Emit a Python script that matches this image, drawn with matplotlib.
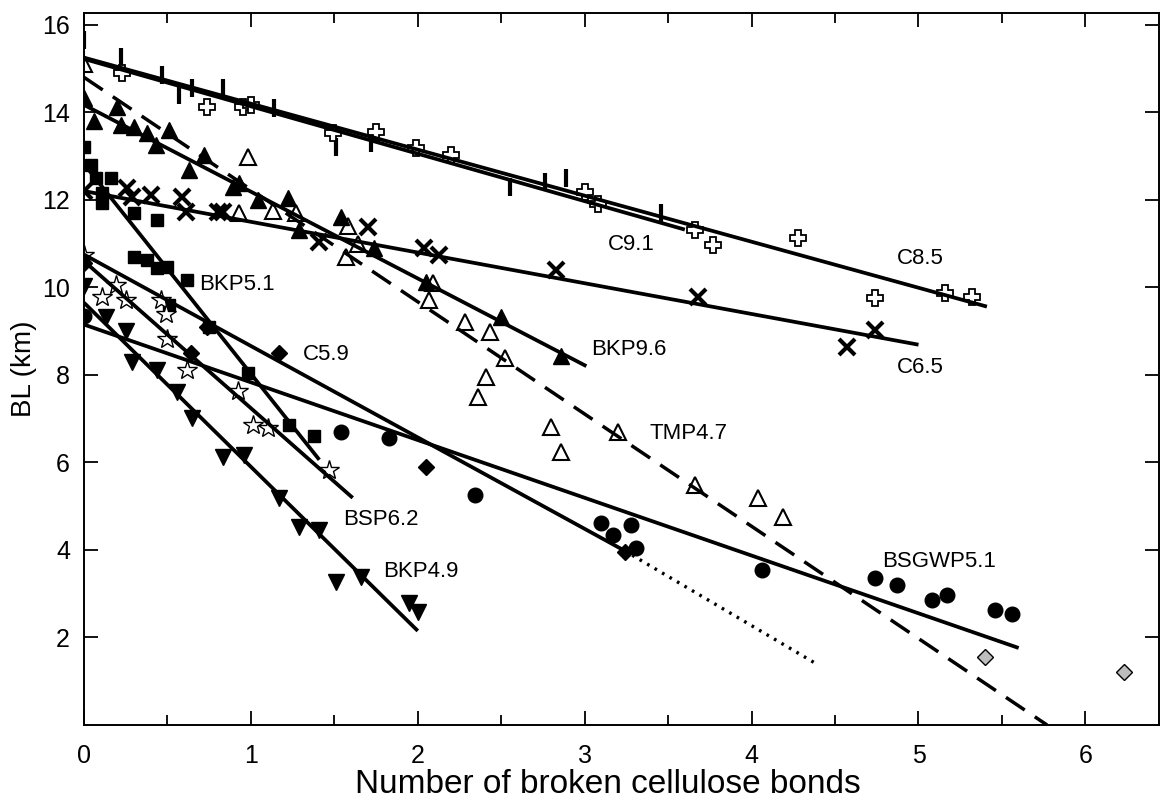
import matplotlib
matplotlib.use("Agg")
import numpy as np
import matplotlib.pyplot as plt

plt.rcParams['font.family'] = ['Liberation Sans', 'DejaVu Sans']

# C9.1 (vertical bars)
c91_x = [0.0, 0.22, 0.47, 0.57, 0.65, 0.83, 1.14, 1.51, 1.72, 2.55, 2.76, 2.89, 3.46]
c91_y = [15.66, 15.27, 14.86, 14.4, 14.56, 14.56, 14.1, 13.2, 13.3, 12.3, 12.4, 12.5, 11.7]
c91_fit = ([0.0, 3.6], [15.22, 11.32])

# C8.5 (open crosses)
c85_x = [0.23, 0.74, 0.95, 1.0, 1.49, 1.75, 1.99, 2.2, 3.0, 3.08, 3.66, 3.77, 4.28, 4.74, 5.16, 5.32]
c85_y = [14.9, 14.13, 14.13, 14.17, 13.53, 13.56, 13.19, 13.03, 12.18, 11.9, 11.3, 10.97, 11.13, 9.76, 9.87, 9.78]
c85_fit = ([0.0, 5.41], [15.25, 9.56])

# TMP4.7 (open triangles, dashed fit)
tmp_x = [0.0, 0.98, 0.93, 1.13, 1.27, 1.58, 1.64, 1.57, 2.09, 2.07, 2.28, 2.43, 2.52, 2.41, 2.36,
         2.8, 2.86, 3.2, 3.66, 4.04, 4.19]
tmp_y = [15.1, 12.98, 11.7, 11.75, 11.7, 11.4, 11.0, 10.7, 10.1, 9.71, 9.21, 8.98, 8.39, 7.96, 7.5,
         6.81, 6.24, 6.7, 5.49, 5.19, 4.75]
tmp_fit = ([0.0, 5.77], [14.8, 0.0])

# BKP9.6 (filled triangles)
bkp96_x = [0.0, 0.06, 0.2, 0.22, 0.3, 0.38, 0.43, 0.51, 0.72, 0.63, 0.89, 0.93, 1.04, 1.22,
           1.29, 1.54, 1.74, 2.05, 2.5, 2.86]
bkp96_y = [14.33, 13.8, 14.13, 13.7, 13.67, 13.53, 13.26, 13.6, 13.03, 12.69, 12.3, 12.39, 12.0, 12.04,
           11.31, 11.6, 10.9, 10.13, 9.33, 8.43]
bkp96_fit = ([0.0, 3.01], [14.17, 8.2])

# C6.5 (x)
c65_x = [0.0, 0.26, 0.29, 0.4, 0.59, 0.61, 0.8, 0.83, 1.41, 1.7, 2.04, 2.13, 2.83, 3.68, 4.57, 4.74]
c65_y = [12.2, 12.27, 12.07, 12.1, 12.07, 11.72, 11.72, 11.72, 11.04, 11.38, 10.9, 10.74, 10.4, 9.78, 8.64, 9.03]
c65_fit = ([0.0, 5.0], [12.2, 8.69])

# BKP5.1 (filled squares)
bkp51_x = [0.0, 0.04, 0.07, 0.16, 0.11, 0.11, 0.3, 0.44, 0.3, 0.38, 0.44, 0.5, 0.62, 0.51,
           0.75, 0.98, 1.23, 1.38]
bkp51_y = [13.2, 12.8, 12.5, 12.5, 12.15, 11.93, 11.7, 11.54, 10.7, 10.63, 10.44, 10.47, 10.17, 9.6,
           9.1, 8.05, 6.85, 6.6]
bkp51_fit = ([0.0, 1.41], [12.82, 6.06])

# BSP6.2 (open stars)
bsp_x = [0.0, 0.11, 0.19, 0.25, 0.46, 0.49, 0.5, 0.62, 0.92, 1.01, 1.1, 1.47]
bsp_y = [10.75, 9.78, 10.06, 9.7, 9.72, 9.4, 8.82, 8.11, 7.64, 6.86, 6.79, 5.83]
bsp_fit = ([0.0, 1.61], [10.6, 5.19])

# C5.9 (filled diamonds, dotted extension)
c59_x = [0.0, 0.74, 0.64, 1.17, 2.05, 3.24]
c59_y = [10.55, 9.1, 8.5, 8.5, 5.9, 3.95]
c59_fit = ([0.0, 3.24], [10.75, 3.98])
c59_ext = ([3.24, 4.4], [3.98, 1.37])

# BKP4.9 (filled inverted triangles)
bkp49_x = [0.0, 0.13, 0.25, 0.29, 0.44, 0.56, 0.65, 0.83, 0.96, 1.17, 1.29, 1.41, 1.51, 1.66, 1.95, 2.0]
bkp49_y = [10.03, 9.33, 9.0, 8.3, 8.11, 7.61, 7.02, 6.13, 6.17, 5.19, 4.53, 4.46, 3.27, 3.38, 2.79, 2.58]
bkp49_fit = ([0.0, 2.0], [9.65, 2.15])

# BSGWP5.1 (filled circles)
bsg_x = [0.0, 1.54, 1.83, 2.34, 3.1, 3.17, 3.28, 3.31, 4.06, 4.74, 4.87, 5.08, 5.17, 5.46, 5.56]
bsg_y = [9.35, 6.7, 6.56, 5.26, 4.62, 4.34, 4.57, 4.05, 3.54, 3.36, 3.2, 2.86, 2.97, 2.63, 2.54]
bsg_fit = ([0.0, 5.6], [9.15, 1.76])

# grey diamonds
grey_x = [5.4, 6.23]
grey_y = [1.55, 1.21]

labels = ["C9.1", "C8.5", "C6.5", "BKP9.6", "TMP4.7", "BKP5.1", "C5.9", "BSP6.2", "BKP4.9", "BSGWP5.1"]
label_x = [3.14, 4.87, 4.87, 3.04, 3.39, 0.69, 1.31, 1.55, 1.79, 4.78]
label_y = [10.97, 10.67, 8.18, 8.57, 6.67, 10.06, 8.46, 4.69, 3.5, 3.73]

fig = plt.figure(figsize=(11.6, 8.01), dpi=100)
ax = fig.add_axes([0.0724, 0.0949, 0.9266, 0.8889])

lw = 2.7
for fx, fy in [c91_fit, c85_fit, bkp96_fit, c65_fit, bkp51_fit, bsp_fit, c59_fit, bkp49_fit, bsg_fit]:
    ax.plot(fx, fy, color="black", lw=lw, solid_capstyle="butt", zorder=3)
ax.plot(*tmp_fit, color="black", lw=2.5, linestyle=(0, (6.5, 3.5)), zorder=3)
ax.plot(*c59_ext, color="black", lw=2.4, linestyle=(0, (0.8, 1.8)), zorder=3)

ax.plot(c91_x, c91_y, ls="none", marker="|", ms=13, mew=3, color="black", zorder=2)
ax.plot(c85_x, c85_y, ls="none", marker="P", ms=12, mfc="white", mec="black", mew=1.3, zorder=2)
ax.plot(tmp_x, tmp_y, ls="none", marker="^", ms=11, mfc="white", mec="black", mew=1.5, zorder=2)
ax.plot(bkp96_x, bkp96_y, ls="none", marker="^", ms=12, color="black", zorder=2)
ax.plot(c65_x, c65_y, ls="none", marker="x", ms=11, mew=3, color="black", zorder=2)
ax.plot(bkp51_x, bkp51_y, ls="none", marker="s", ms=8.5, color="black", zorder=2)
ax.plot(bsp_x, bsp_y, ls="none", marker="*", ms=15, mfc="white", mec="black", mew=1.0, zorder=2)
ax.plot(c59_x, c59_y, ls="none", marker="D", ms=8.5, color="black", zorder=2)
ax.plot(bkp49_x, bkp49_y, ls="none", marker="v", ms=12, color="black", zorder=2)
ax.plot(bsg_x, bsg_y, ls="none", marker="o", ms=10.5, color="black", zorder=2)
ax.plot(grey_x, grey_y, ls="none", marker="D", ms=8.5, mfc="#bdbdbd", mec="black", mew=1.0, zorder=2)

for t, x, y in zip(labels, label_x, label_y):
    ax.text(x, y, t, fontsize=16, va="center", ha="left", zorder=4)

ax.set_xlim(0, 6.44)
ax.set_ylim(0, 16.27)
ax.set_xticks(range(0, 7))
ax.set_xticks(np.arange(0.5, 6.5, 1.0), minor=True)
ax.set_yticks(range(2, 17, 2))
ax.tick_params(which="both", direction="in", top=True, right=True, width=1.3, labelsize=18)
ax.tick_params(axis="x", pad=14)
ax.tick_params(axis="y", pad=10)
ax.tick_params(which="major", length=10)
ax.tick_params(which="minor", length=7)
for s in ax.spines.values():
    s.set_linewidth(1.4)

ax.set_xlabel("Number of broken cellulose bonds", fontsize=24)
ax.xaxis.set_label_coords(0.487, -0.062)
ax.set_ylabel("BL (km)", fontsize=20, labelpad=4)

fig.savefig("out.png", dpi=100)
